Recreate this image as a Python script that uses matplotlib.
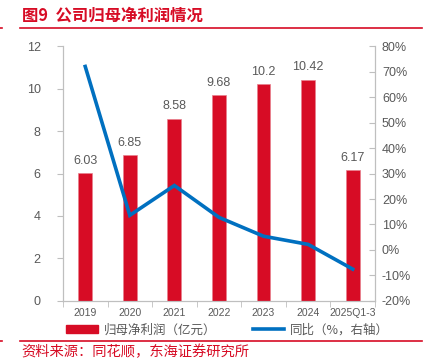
import matplotlib
matplotlib.use("Agg")
import matplotlib.pyplot as plt
from matplotlib.patches import Patch
from matplotlib.lines import Line2D
import numpy as np

plt.rcParams['font.family'] = ['Noto Sans CJK SC', 'DejaVu Sans']

categories = ["2019", "2020", "2021", "2022", "2023", "2024", "2025Q1-3"]
profit = [6.03, 6.85, 8.58, 9.68, 10.2, 10.42, 6.17]
growth = [72.0, 13.6, 25.3, 12.8, 5.4, 2.2, -7.5]
left_ticks = [0, 2, 4, 6, 8, 10, 12]
right_ticks = [-20, -10, 0, 10, 20, 30, 40, 50, 60, 70, 80]

RED = "#D70C25"
BLUE = "#0070C0"
GREY = "#595959"
AX = "#BFBFBF"

fig = plt.figure(figsize=(4.34, 3.6), dpi=100)
ax = fig.add_axes([0.145, 0.164, 0.719, 0.708])
x = np.arange(len(categories))
ax.bar(x, profit, width=0.31, color=RED, edgecolor="#E8808E", linewidth=0.5, zorder=2)
for xi, v in zip(x, profit):
    ax.text(xi, v + 0.3, f"{v:g}", ha="center", va="bottom", fontsize=9, color=GREY,
            family=['Liberation Sans', 'DejaVu Sans'])
ax.set_xlim(-0.5, len(categories) - 0.5)
ax.set_ylim(0, 12)
ax.set_yticks(left_ticks)
ax.set_xticks(x)
ax.set_xticklabels(categories)
ax.set_xticks(np.arange(-0.5, len(categories)), minor=True)
ax.tick_params(axis="x", which="major", length=0, pad=5, labelsize=7.5, labelcolor=GREY)
ax.tick_params(axis="x", which="minor", length=4, color=AX, direction="out")
ax.tick_params(axis="y", length=4, color=AX, labelsize=9, labelcolor=GREY, pad=12)
for lab in ax.get_xticklabels() + ax.get_yticklabels():
    lab.set_family(['Liberation Sans', 'DejaVu Sans'])
for s in ["top"]:
    ax.spines[s].set_visible(False)
for s in ["left", "bottom", "right"]:
    ax.spines[s].set_color(AX)
    ax.spines[s].set_linewidth(0.8)

ax2 = ax.twinx()
ax2.plot(x, growth, color=BLUE, linewidth=2.6, zorder=3, solid_joinstyle="miter")
ax2.set_ylim(-20, 80)
ax2.set_yticks(right_ticks)
ax2.set_yticklabels([f"{t}%" for t in right_ticks])
ax2.tick_params(axis="y", length=4, color=AX, direction="in", labelsize=9, labelcolor=GREY, pad=5)
for lab in ax2.get_yticklabels():
    lab.set_family(['Liberation Sans', 'DejaVu Sans'])
ax2.spines["top"].set_visible(False)
for s in ["left", "bottom", "right"]:
    ax2.spines[s].set_color(AX)
    ax2.spines[s].set_linewidth(0.8)

# title and rules
fig.text(0.05, 0.957, "图9  公司归母净利润情况", color=RED, fontsize=11.8, fontweight="bold",
         ha="left", va="center")
fig.add_artist(Line2D([0.046, 0.973], [0.923, 0.923], color=RED, linewidth=1.2))
fig.add_artist(Line2D([0.0, 0.005], [0.923, 0.923], color=RED, linewidth=1.2))
fig.add_artist(Line2D([0.046, 0.973], [0.053, 0.053], color=RED, linewidth=1.2))
fig.add_artist(Line2D([0.0, 0.005], [0.053, 0.053], color=RED, linewidth=1.2))
fig.text(0.05, 0.022, "资料来源：同花顺，东海证券研究所", color=RED, fontsize=10.3,
         ha="left", va="center")

handles = [Patch(facecolor=RED, edgecolor=RED), Line2D([0], [0], color=BLUE, linewidth=2.6)]
labels = ["归母净利润（亿元）", "同比（%，右轴）"]
fig.legend(handles, labels, loc="center", bbox_to_anchor=(0.525, 0.083), ncol=2, frameon=False,
           fontsize=9, labelcolor=GREY, handlelength=2.5, handleheight=0.6, columnspacing=2.9,
           handletextpad=0.5)

fig.savefig("out.png", dpi=100)
